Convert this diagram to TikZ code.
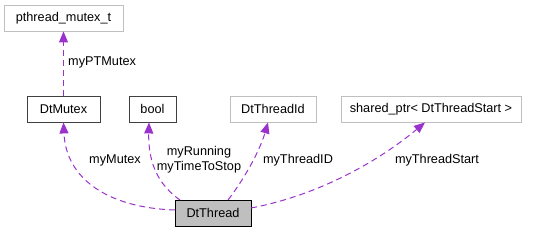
\documentclass[tikz,border=0pt]{standalone}
\usepackage{fontspec}
\setmainfont{Liberation Sans}
\usetikzlibrary{arrows.meta}
\definecolor{edgepurple}{HTML}{9A32CD}
\definecolor{lightborder}{HTML}{BFBFBF}
\definecolor{darkborder}{HTML}{404040}
\tikzset{
  box/.style={draw=darkborder, line width=0.9pt, minimum height=26pt, inner xsep=6pt, font=\fontsize{12.7}{15}\selectfont, text=black},
  extbox/.style={box, draw=lightborder},
  mainbox/.style={box, draw=black, fill=lightborder},
  rel/.style={draw=edgepurple, line width=1pt, dash pattern=on 6pt off 4pt, -{Triangle[length=11pt,width=9pt,fill=edgepurple]}},
  lbl/.style={font=\fontsize{12.7}{15}\selectfont, align=center, inner sep=0pt}
}
\begin{document}
\begin{tikzpicture}[x=1pt,y=-1pt]
\useasboundingbox (0,0) rectangle (536,232);
\node[extbox, minimum width=119pt] (pm) at (63.5,18) {pthread\_mutex\_t};
\node[box, minimum width=73pt] (mutex) at (63.5,109) {DtMutex};
\node[box, minimum width=47pt] (bool) at (152.5,109) {bool};
\node[extbox, minimum width=86pt] (tid) at (273,109) {DtThreadId};
\node[extbox, minimum width=180pt] (sp) at (431,109) {shared\_ptr< DtThreadStart >};
\node[mainbox, minimum width=76pt] (th) at (213,213) {DtThread};

\coordinate (thA) at (175,210);
\coordinate (thB) at (180,200);
\coordinate (thC) at (228,200);
\coordinate (thD) at (251,208);

\draw[rel] (mutex.north) -- (pm.south);
\draw[rel] (thA) .. controls (110,208) and (66,180) .. (mutex.south);
\draw[rel] (thB) .. controls (160,186) and (148,165) .. (bool.south -| 149,0);
\draw[rel] (thC) .. controls (245,178) and (260,150) .. (tid.south -| 268,0);
\draw[rel] (thD) .. controls (320,195) and (380,160) .. (sp.south -| 425,0);

\node[lbl, anchor=west] (l1) at (68,62) {myPTMutex};
\node[lbl] (l2) at (115,160) {myMutex};
\node[lbl] (l3) at (199,160) {myRunning\\myTimeToStop};
\node[lbl] (l4) at (298,160) {myThreadID};
\node[lbl] (l5) at (437,160) {myThreadStart};
\end{tikzpicture}
\end{document}
